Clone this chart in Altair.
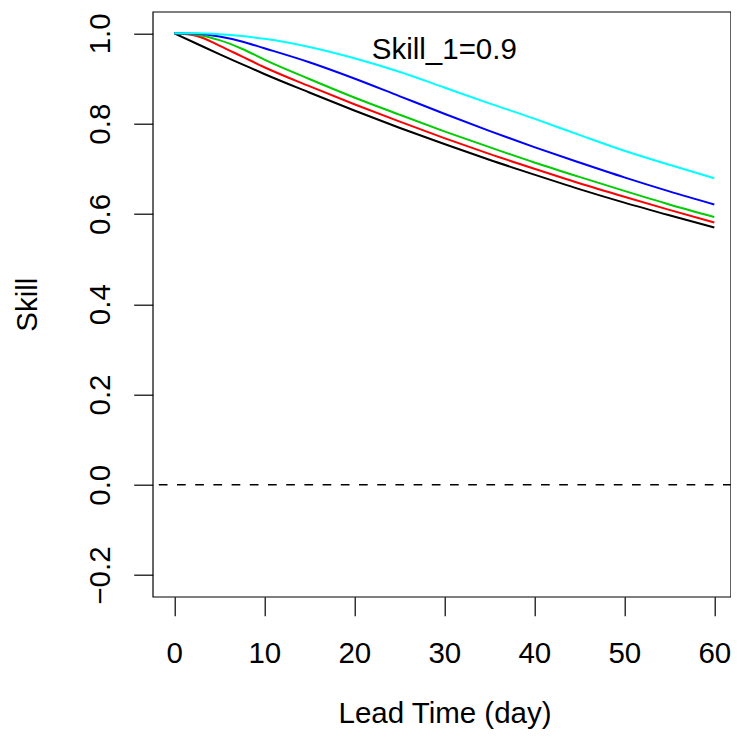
import altair as alt
import pandas as pd

# Lead time (days) at which the curves were read
lead_time = [0, 2.5, 5, 7.5, 10, 15, 20, 25, 30, 35, 40, 45, 50, 55, 60]

# Skill values, one list per curve
skill_black = [1.000, 0.977, 0.954, 0.932, 0.910, 0.869, 0.829, 0.791, 0.755, 0.720, 0.687, 0.655, 0.625, 0.597, 0.570]
skill_red   = [1.000, 0.994, 0.973, 0.949, 0.925, 0.883, 0.843, 0.805, 0.768, 0.733, 0.700, 0.668, 0.638, 0.609, 0.581]
skill_green = [1.000, 0.997, 0.985, 0.966, 0.942, 0.899, 0.858, 0.820, 0.783, 0.748, 0.714, 0.682, 0.651, 0.621, 0.593]
skill_blue  = [1.000, 0.999, 0.993, 0.982, 0.967, 0.936, 0.900, 0.861, 0.822, 0.784, 0.748, 0.714, 0.681, 0.650, 0.621]
skill_cyan  = [1.000, 1.000, 0.998, 0.994, 0.988, 0.970, 0.945, 0.915, 0.880, 0.845, 0.811, 0.775, 0.740, 0.709, 0.679]

series_names = ["black", "red", "green", "blue", "cyan"]
series_colors = ["#000000", "#FF0000", "#00CD00", "#0000FF", "#00FFFF"]
series_values = [skill_black, skill_red, skill_green, skill_blue, skill_cyan]

x_ticks = [0, 10, 20, 30, 40, 50, 60]
y_ticks = [-0.2, 0.0, 0.2, 0.4, 0.6, 0.8, 1.0]

annotation_text = "Skill_1=0.9"
annotation_x = 30
annotation_y = 0.943

rows = []
for name, vals in zip(series_names, series_values):
    for t, v in zip(lead_time, vals):
        rows.append({"series": name, "lead": t, "skill": v})
df = pd.DataFrame(rows)

FONT = "Liberation Sans"
FS = 29.5

x_scale = alt.Scale(domain=[-2.4, 61.82], nice=False, zero=False)
y_scale = alt.Scale(domain=[-0.248, 1.048], nice=False, zero=False)

x_axis = alt.Axis(values=x_ticks, format="d", title="Lead Time (day)",
                  labelPadding=47, labelBaseline="alphabetic",
                  titleX=291.8, titleY=126, titleBaseline="alphabetic",
                  titleAlign="center")
y_axis = alt.Axis(values=y_ticks, format=".1f", title="Skill",
                  labelAngle=270, labelAlign="center", labelBaseline="alphabetic",
                  labelPadding=24.4,
                  titleAngle=270, titleX=-116, titleY=292.5,
                  titleBaseline="alphabetic", titleAlign="center")

lines = alt.Chart(df).mark_line(strokeWidth=2, interpolate="monotone").encode(
    x=alt.X("lead:Q", scale=x_scale, axis=x_axis),
    y=alt.Y("skill:Q", scale=y_scale, axis=y_axis),
    color=alt.Color("series:N", scale=alt.Scale(domain=series_names, range=series_colors), legend=None),
    detail="series:N",
)

zero_df = pd.DataFrame({"y": [0.0]})
zero_line = alt.Chart(zero_df).mark_rule(
    color="black", strokeWidth=1.5, strokeDash=[8.7, 9.5], strokeDashOffset=1
).encode(y=alt.Y("y:Q", scale=y_scale))

ann_df = pd.DataFrame({"x": [annotation_x], "y": [annotation_y], "text": [annotation_text]})
annotation = alt.Chart(ann_df).mark_text(
    font=FONT, fontSize=FS, color="black", align="center", baseline="alphabetic"
).encode(
    x=alt.X("x:Q", scale=x_scale),
    y=alt.Y("y:Q", scale=y_scale),
    text="text:N",
)

chart = alt.layer(zero_line, lines, annotation).properties(
    width=578, height=585,
    autosize=alt.AutoSizeParams(type="none"),
    padding={"left": 144.7, "top": 3.7, "right": 0.3, "bottom": 133},
    background="white",
).configure_view(
    stroke="black", strokeWidth=1.2
).configure_axis(
    domain=False, grid=False,
    tickColor="black", tickWidth=1.2, tickSize=19,
    labelFont=FONT, labelFontSize=FS, labelColor="black",
    titleFont=FONT, titleFontSize=FS, titleColor="black", titleFontWeight="normal",
)

chart.save("out.html", embed_options={"renderer": "svg", "actions": False})
